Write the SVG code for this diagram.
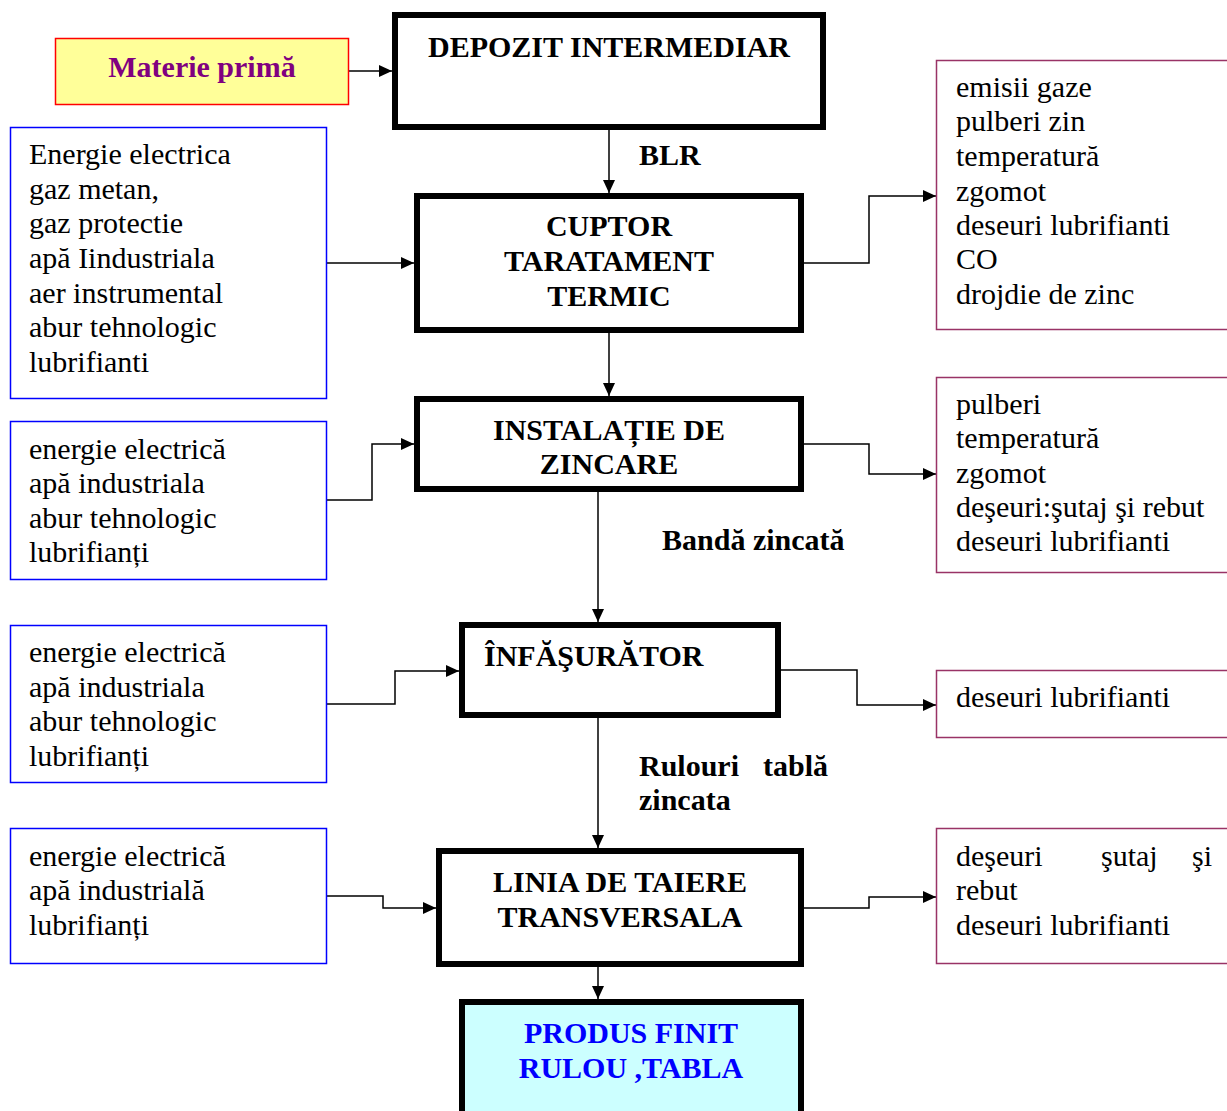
<svg xmlns="http://www.w3.org/2000/svg" width="1227" height="1111" viewBox="0 0 1227 1111">
  <style>
    .proc { fill: #ffffff; stroke: #000000; stroke-width: 6; }
    .in { fill: #ffffff; stroke: #0000ff; stroke-width: 1.5; }
    .out { fill: #ffffff; stroke: #993366; stroke-width: 1.5; }
    .t { font-family: "Liberation Serif", "Times New Roman", serif; font-size: 30px; fill: #000000; }
    .b { font-family: "Liberation Serif", "Times New Roman", serif; font-size: 30px; font-weight: bold; fill: #000000; }
    .c { text-anchor: middle; }
    .wire { fill: none; stroke: #000000; stroke-width: 1.5; marker-end: url(#arrow); }
  </style>
  <defs>
    <marker id="arrow" markerUnits="userSpaceOnUse" markerWidth="14" markerHeight="12" refX="13" refY="6" orient="auto">
      <path d="M0,0 L13,6 L0,12 Z" fill="#000000"/>
    </marker>
  </defs>
  <rect width="1227" height="1111" fill="#ffffff"/>

  <!-- connectors -->
  <g id="connectors">
    <path class="wire" d="M349,71 H392"/>
    <path class="wire" d="M609,130 V193"/>
    <path class="wire" d="M327,263 H414"/>
    <path class="wire" d="M804,263 H869 V196 H936"/>
    <path class="wire" d="M609,333 V396"/>
    <path class="wire" d="M327,500 H372 V444 H414"/>
    <path class="wire" d="M804,444 H869 V474 H936"/>
    <path class="wire" d="M598,492 V622"/>
    <path class="wire" d="M327,704 H395 V671 H459"/>
    <path class="wire" d="M781,670 H857 V705 H936"/>
    <path class="wire" d="M598,718 V848"/>
    <path class="wire" d="M327,896 H383 V908 H436"/>
    <path class="wire" d="M804,908 H869 V897 H936"/>
    <path class="wire" d="M598,967 V999"/>
    <text class="b" x="639" y="165">BLR</text>
    <text class="b" x="662" y="550">Bandă zincată</text>
    <text class="b" y="776"><tspan x="639">Rulouri</tspan><tspan x="763">tablă</tspan></text>
    <text class="b" x="639" y="810">zincata</text>
  </g>

  <!-- raw material -->
  <g id="materie-prima">
    <rect x="55.5" y="38.5" width="293" height="66" fill="#ffff99" stroke="#ff0000" stroke-width="1.5"/>
    <text class="b c" x="202" y="77" style="fill:#800080">Materie primă</text>
  </g>

  <!-- process steps -->
  <g id="depozit-intermediar">
    <rect class="proc" x="395" y="15" width="428" height="112"/>
    <text class="b c" x="609" y="57">DEPOZIT INTERMEDIAR</text>
  </g>

  <g id="cuptor">
    <rect class="proc" x="417" y="196" width="384" height="134"/>
    <text class="b c" x="609" y="236">CUPTOR</text>
    <text class="b c" x="609" y="271">TARATAMENT</text>
    <text class="b c" x="609" y="306">TERMIC</text>
  </g>

  <g id="instalatie-zincare">
    <rect class="proc" x="417" y="399" width="384" height="90"/>
    <text class="b c" x="609" y="440">INSTALAȚIE DE</text>
    <text class="b c" x="609" y="474">ZINCARE</text>
  </g>

  <g id="infasurator">
    <rect class="proc" x="462" y="625" width="316" height="90"/>
    <text class="b" x="484" y="666">ÎNFĂŞURĂTOR</text>
  </g>

  <g id="linia-taiere">
    <rect class="proc" x="439" y="851" width="362" height="113"/>
    <text class="b c" x="620" y="892">LINIA DE TAIERE</text>
    <text class="b c" x="620" y="927">TRANSVERSALA</text>
  </g>

  <g id="produs-finit">
    <rect x="462" y="1002" width="339" height="120" fill="#ccffff" stroke="#000000" stroke-width="6"/>
    <text class="b c" x="631" y="1043" style="fill:#0000ff">PRODUS FINIT</text>
    <text class="b c" x="631" y="1078" style="fill:#0000ff">RULOU ,TABLA</text>
  </g>

  <!-- inputs -->
  <g id="intrari-cuptor">
    <rect class="in" x="10.5" y="127.5" width="316" height="271"/>
    <text class="t" x="29" y="164">Energie electrica</text>
    <text class="t" x="29" y="199">gaz metan,</text>
    <text class="t" x="29" y="233">gaz protectie</text>
    <text class="t" x="29" y="268">apă Iindustriala</text>
    <text class="t" x="29" y="303">aer instrumental</text>
    <text class="t" x="29" y="337">abur tehnologic</text>
    <text class="t" x="29" y="372">lubrifianti</text>
  </g>

  <g id="intrari-zincare">
    <rect class="in" x="10.5" y="421.5" width="316" height="158"/>
    <text class="t" x="29" y="459">energie electrică</text>
    <text class="t" x="29" y="493">apă industriala</text>
    <text class="t" x="29" y="528">abur tehnologic</text>
    <text class="t" x="29" y="562">lubrifianți</text>
  </g>

  <g id="intrari-infasurator">
    <rect class="in" x="10.5" y="625.5" width="316" height="157"/>
    <text class="t" x="29" y="662">energie electrică</text>
    <text class="t" x="29" y="697">apă industriala</text>
    <text class="t" x="29" y="731">abur tehnologic</text>
    <text class="t" x="29" y="766">lubrifianți</text>
  </g>

  <g id="intrari-taiere">
    <rect class="in" x="10.5" y="828.5" width="316" height="135"/>
    <text class="t" x="29" y="866">energie electrică</text>
    <text class="t" x="29" y="900">apă industrială</text>
    <text class="t" x="29" y="935">lubrifianți</text>
  </g>

  <!-- outputs -->
  <g id="iesiri-cuptor">
    <rect class="out" x="936.5" y="60.5" width="300" height="269"/>
    <text class="t" x="956" y="97">emisii gaze</text>
    <text class="t" x="956" y="131">pulberi zin</text>
    <text class="t" x="956" y="166">temperatură</text>
    <text class="t" x="956" y="201">zgomot</text>
    <text class="t" x="956" y="235">deseuri lubrifianti</text>
    <text class="t" x="956" y="269">CO</text>
    <text class="t" x="956" y="304">drojdie de zinc</text>
  </g>

  <g id="iesiri-zincare">
    <rect class="out" x="936.5" y="377.5" width="300" height="195"/>
    <text class="t" x="956" y="414">pulberi</text>
    <text class="t" x="956" y="448">temperatură</text>
    <text class="t" x="956" y="483">zgomot</text>
    <text class="t" x="956" y="517">deşeuri:şutaj şi rebut</text>
    <text class="t" x="956" y="551">deseuri lubrifianti</text>
  </g>

  <g id="iesiri-infasurator">
    <rect class="out" x="936.5" y="670.5" width="300" height="67"/>
    <text class="t" x="956" y="707">deseuri lubrifianti</text>
  </g>

  <g id="iesiri-taiere">
    <rect class="out" x="936.5" y="828.5" width="300" height="135"/>
    <text class="t" y="866"><tspan x="956">deşeuri</tspan><tspan x="1101">şutaj</tspan><tspan x="1192">şi</tspan></text>
    <text class="t" x="956" y="900">rebut</text>
    <text class="t" x="956" y="935">deseuri lubrifianti</text>
  </g>
</svg>
